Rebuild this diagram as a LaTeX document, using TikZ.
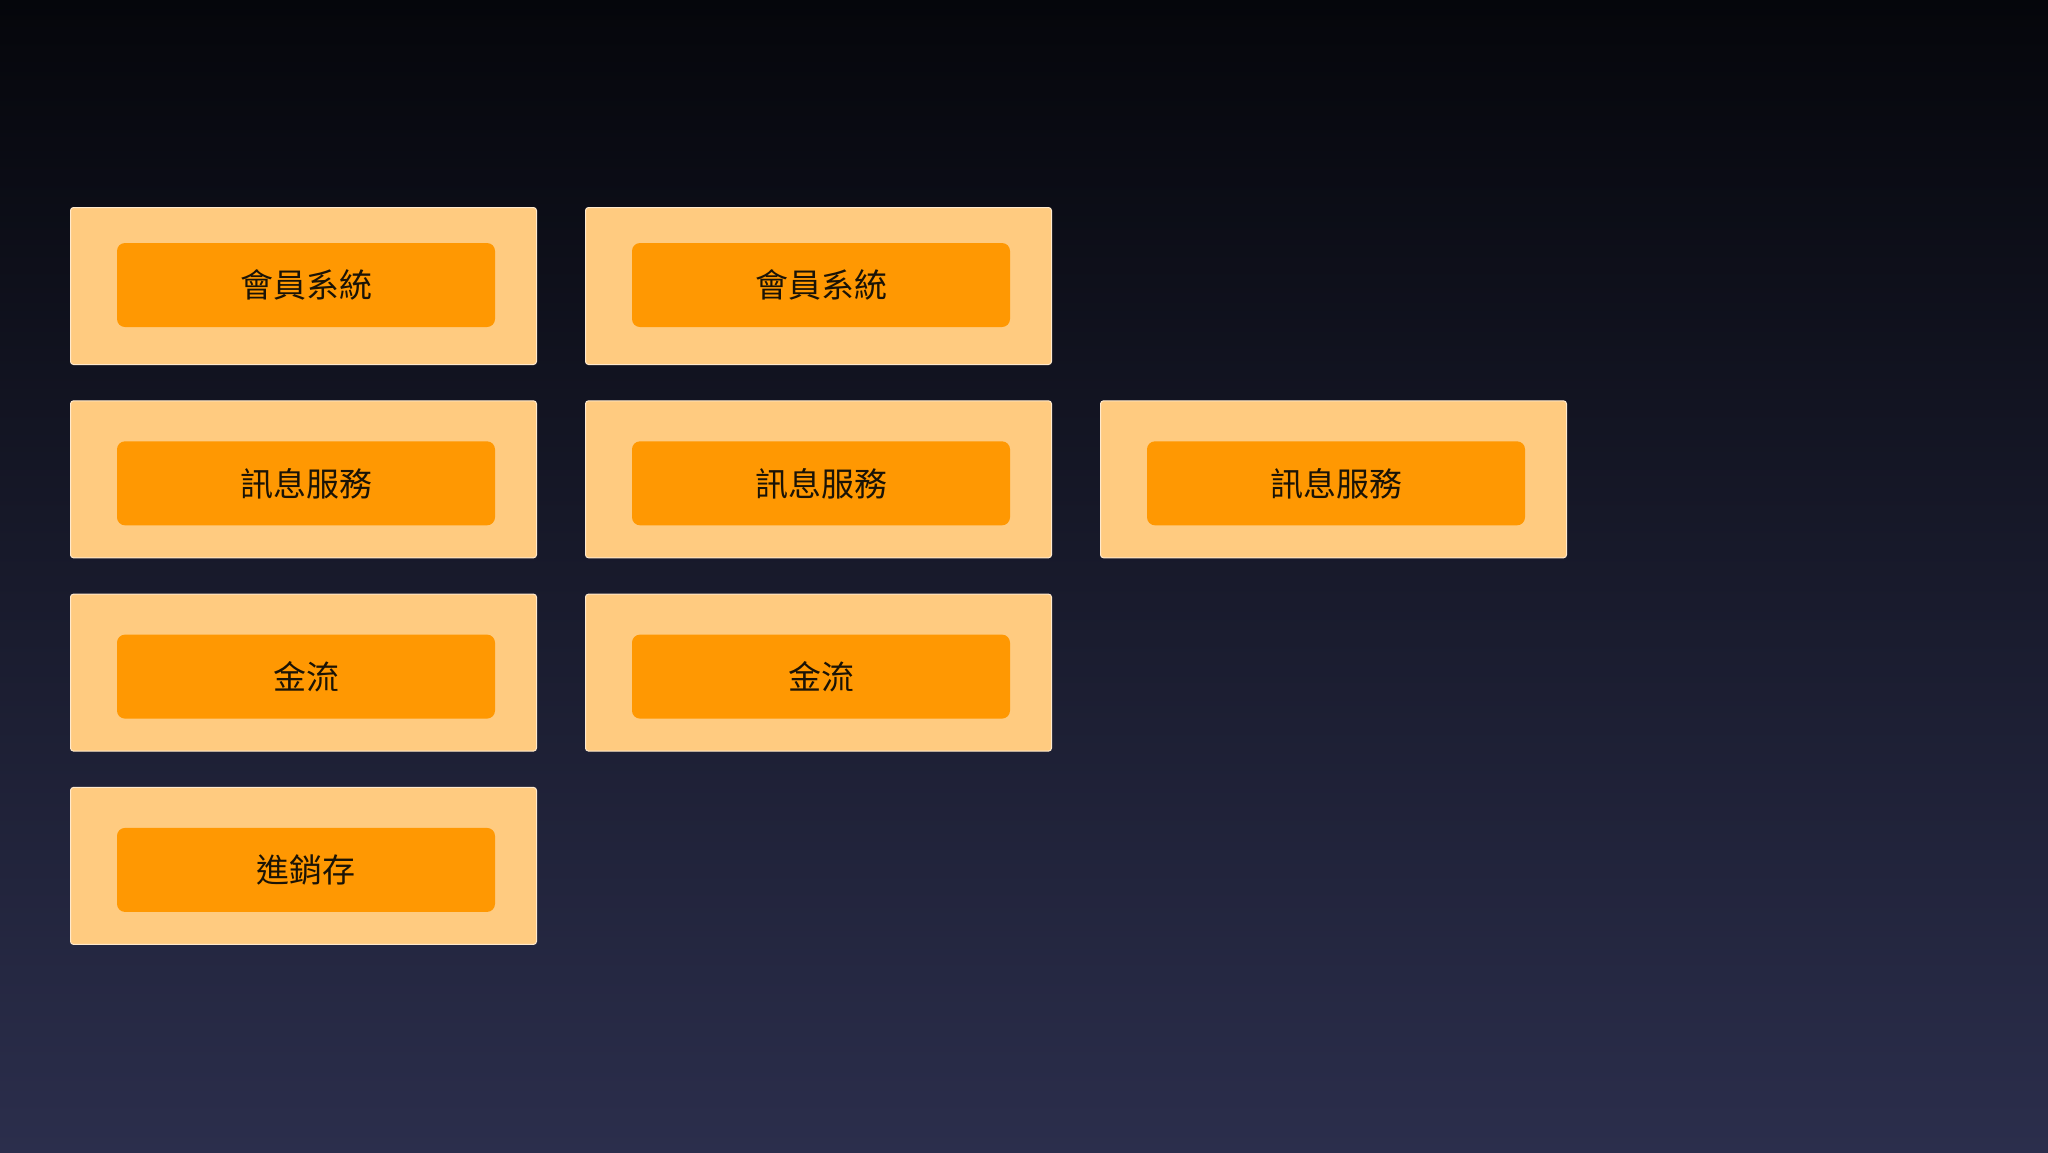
\documentclass[tikz,border=0pt]{standalone}
\usepackage{fontspec}
\usepackage{xcolor}
\usepackage{tikz}
\usetikzlibrary{positioning,calc}
\newfontfamily\cjk{Noto Sans CJK TC}
\definecolor{Night}{HTML}{05060B}
\definecolor{Dusk}{HTML}{161B36}
\definecolor{Slate}{HTML}{2B2E4C}
\definecolor{Peach}{HTML}{FFCB80}
\definecolor{PeachEdge}{HTML}{FFE9CC}
\definecolor{Amber}{HTML}{FF9802}
\definecolor{Ink}{HTML}{1A1306}
\tikzset{
  panel/.style={draw=PeachEdge,fill=Peach,line width=0.5pt,rounded corners=1.5pt,minimum width=233pt,minimum height=78.5pt,inner sep=0pt},
  tile/.style={fill=Amber,rounded corners=4pt,minimum width=189pt,minimum height=42pt,inner sep=0pt,text=Ink,font=\cjk\fontsize{16.5}{20}\selectfont}
}

\begin{document}
\begin{tikzpicture}[x=0.5pt,y=-0.5pt]
  \useasboundingbox (0,0) rectangle (2048,1152);
  \shade[top color=Night,middle color=Dusk,bottom color=Slate] (0,0) rectangle (2048,1152);
  % modules, column by column
  \foreach \c/\r/\txt/\dy [count=\i] in {0/0/會員系統/-1,1/0/會員系統/-1,
      0/1/訊息服務/4,1/1/訊息服務/4,2/1/訊息服務/4,
      0/2/金流/4,1/2/金流/4,
      0/3/進銷存/4} {
    \node[panel] (panel\i) at ({303.5+515*\c},{286+193.3*\r}) {};
    \node[tile] (tile\i) at ([shift={(2.5,\dy)}]panel\i.center) {\raisebox{-1.5pt}{\txt}};
  }
\end{tikzpicture}
\end{document}
